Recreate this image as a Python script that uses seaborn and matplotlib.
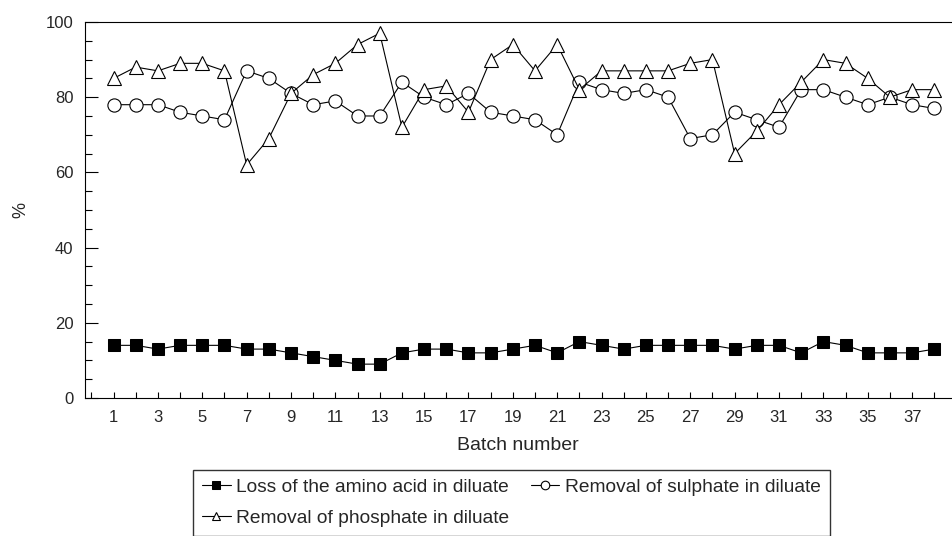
import numpy as np
import pandas as pd
import matplotlib
matplotlib.use("Agg")
import matplotlib.pyplot as plt
import seaborn as sns
from matplotlib.ticker import MultipleLocator

batch = list(range(1, 39))
amino_loss = [14, 14, 13, 14, 14, 14, 13, 13, 12, 11, 10, 9, 9, 12, 13, 13, 12, 12, 13,
              14, 12, 15, 14, 13, 14, 14, 14, 14, 13, 14, 14, 12, 15, 14, 12, 12, 12, 13]
sulphate = [78, 78, 78, 76, 75, 74, 87, 85, 81, 78, 79, 75, 75, 84, 80, 78, 81, 76, 75,
            74, 70, 84, 82, 81, 82, 80, 69, 70, 76, 74, 72, 82, 82, 80, 78, 80, 78, 77]
phosphate = [85, 88, 87, 89, 89, 87, 62, 69, 81, 86, 89, 94, 97, 72, 82, 83, 76, 90, 94,
             87, 94, 82, 87, 87, 87, 87, 89, 90, 65, 71, 78, 84, 90, 89, 85, 80, 82, 82]
labels = ["Loss of the amino acid in diluate",
          "Removal of sulphate in diluate",
          "Removal of phosphate in diluate"]

df = pd.DataFrame({"Batch": batch, "amino": amino_loss,
                   "sulphate": sulphate, "phosphate": phosphate})

sns.set_style("ticks")
plt.rcParams["font.family"] = ["Liberation Sans", "DejaVu Sans"]

fig = plt.figure(figsize=(9.52, 5.36), dpi=100)
ax = fig.add_axes([0.089, 0.2575, 0.911, 0.7015])

sns.lineplot(data=df, x="Batch", y="amino", ax=ax, color="black", lw=0.8,
             marker="s", markersize=8.5, markerfacecolor="black",
             markeredgecolor="black", label=labels[0])
sns.lineplot(data=df, x="Batch", y="sulphate", ax=ax, color="black", lw=0.8,
             marker="o", markersize=9.5, markerfacecolor="white",
             markeredgecolor="black", markeredgewidth=0.8, label=labels[1])
sns.lineplot(data=df, x="Batch", y="phosphate", ax=ax, color="black", lw=0.8,
             marker="^", markersize=9.5, markerfacecolor="white",
             markeredgecolor="black", markeredgewidth=0.8, label=labels[2])

ax.set_xlim(-0.3, 38.8)
ax.set_ylim(0, 100)
ax.set_xticks(range(1, 38, 2))
ax.xaxis.set_minor_locator(MultipleLocator(1))
ax.yaxis.set_major_locator(MultipleLocator(20))
ax.yaxis.set_minor_locator(MultipleLocator(5))
ax.tick_params(axis="both", which="both", direction="in", labelsize=12,
               color="black", width=0.8)
ax.tick_params(axis="y", which="major", length=9, pad=8)
ax.tick_params(axis="y", which="minor", length=5)
ax.tick_params(axis="x", which="both", length=4)
ax.tick_params(axis="x", which="major", pad=9)
for side in ["left", "bottom", "top"]:
    ax.spines[side].set_color("black")
    ax.spines[side].set_linewidth(0.8)
ax.spines["right"].set_visible(False)

ax.set_xlabel("Batch number", fontsize=14, labelpad=8)
ax.set_ylabel("%", fontsize=13, labelpad=12)

handles, labs = ax.get_legend_handles_labels()
ax.get_legend().remove()
order = [0, 2, 1]
fig.legend([handles[i] for i in order], [labs[i] for i in order], ncol=2,
           loc="upper left", bbox_to_anchor=(0.203, 0.123), fontsize=13.8,
           frameon=True, fancybox=False, edgecolor="black", borderaxespad=0,
           handlelength=1.5, markerscale=0.65, borderpad=0.45,
           labelspacing=0.7, columnspacing=1.1, handletextpad=0.3)

fig.savefig("out.png", dpi=100)
